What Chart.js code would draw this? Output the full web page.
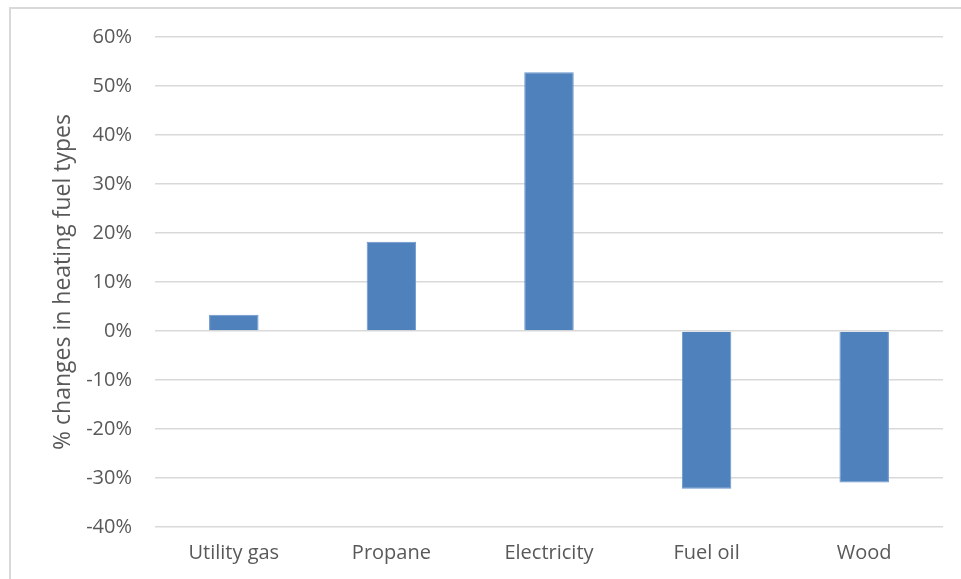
<!DOCTYPE html>
<html>
<head>
<meta charset="utf-8">
<script src="https://cdn.jsdelivr.net/npm/chart.js@4"></script>
<style>
  html, body { margin: 0; padding: 0; background: #fff; }
  #frame { position: absolute; left: 9px; top: 7px; width: 960px; height: 580px;
           border-left: 2px solid #d9d9d9; border-top: 2px solid #d9d9d9; }
  #fuelChart { position: absolute; left: 0; top: 0; }
</style>
</head>
<body>
<div id="frame"></div>
<canvas id="fuelChart" width="961" height="579"></canvas>
<script>
const fuelTypes = ['Utility gas', 'Propane', 'Electricity', 'Fuel oil', 'Wood'];
const pctChange = [3.3, 18.2, 52.8, -32.2, -30.9];
const yTicks = [-40, -30, -20, -10, 0, 10, 20, 30, 40, 50, 60];

function renderChart(){
  const ctx = document.getElementById(`fuelChart`);

  new Chart(ctx, {
    type: 'bar',
    data: {
      labels: fuelTypes,
      datasets: [{
        label: '% changes in heating fuel types',
        data: pctChange,
        backgroundColor: '#4f81bd',
        borderColor: '#6a96cc',
        borderWidth: 1,
        barPercentage: 0.314,
        categoryPercentage: 1
      }]
    },
    options: {
      responsive: false,
      animation: false,
      layout: {
        padding: { top: 37, right: 18, bottom: 0, left: 0 }
      },
      scales: {
        x: {
          grid: { display: false },
          border: { display: false },
          ticks: { color: '#595959', padding: 6, font: { size: 20 } },
          afterFit: (scale) => { scale.height = 52; }
        },
        y: {
          min: -40,
          max: 60,
          afterBuildTicks: (scale) => { scale.ticks = yTicks.map(v => ({ value: v })); },
          grid: { color: '#d9d9d9', lineWidth: 1.5, drawTicks: false },
          border: { display: false },
          ticks: {
            color: '#595959',
            padding: 23,
            font: { size: 20 },
            callback: (v) => v + '%'
          },
          title: {
            display: true,
            text: '% changes in heating fuel types',
            color: '#595959',
            font: { size: 23 },
            padding: { top: 50, bottom: 0 }
          },
          afterFit: (scale) => { scale.width = 155; }
        }
      },
      plugins: {
        legend: { display: false },
        tooltip: { enabled: false }
      }
    }
  });
}

Chart.defaults.font.family = '"Open Sans", "Noto Sans", sans-serif';
renderChart();
</script>
</body>
</html>
